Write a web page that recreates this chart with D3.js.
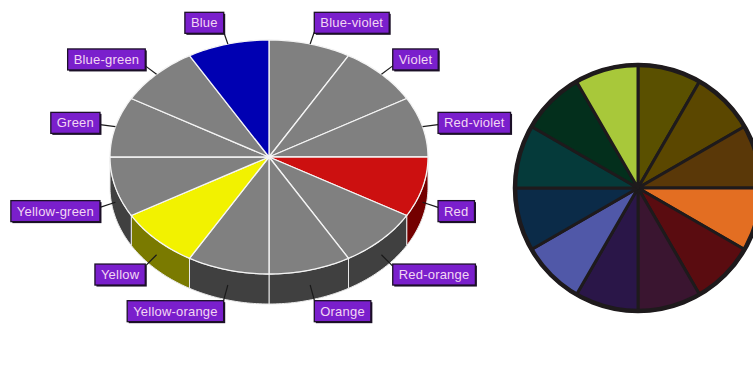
<!DOCTYPE html>
<html><head><meta charset="utf-8">
<script src="https://cdn.jsdelivr.net/npm/d3@7"></script>
<style>html,body{margin:0;padding:0;background:#fff;}svg{display:block;}</style>
</head><body>
<svg id="chart" width="753" height="366"></svg>
<script>
// ---- data ----
const categories = ["Blue-violet","Violet","Red-violet","Red","Red-orange","Orange","Yellow-orange","Yellow","Yellow-green","Green","Blue-green","Blue"];
const values = [1,1,1,1,1,1,1,1,1,1,1,1];
const topColors = ["#808080","#808080","#808080","#cc1010","#808080","#808080","#808080","#f2f200","#808080","#808080","#808080","#0000b2"];
const sideColors = ["#404040","#404040","#404040","#740000","#404040","#404040","#404040","#7a7a00","#404040","#404040","#404040","#000060"];
const wheelColors = ["#5a5000","#5b4700","#5a3808","#e36e22","#5a0c10","#3a1530","#2a1648","#5058a8","#0b2b48","#053a3a","#032f1c","#a8c83a"];
const wheelValues = [1,1,1,1,1,1,1,1,1,1,1,1];

const svg = d3.select("#chart");
const cx = 269, cy = 157, rx = 159, ry = 117, depth = 30;
const pie = d3.pie().sort(null).value(d => d).startAngle(0).endAngle(2*Math.PI);
const arcs = pie(values);

const pt = (a, dy=0, ex=0, ey=0) => [cx + (rx+ex)*Math.sin(a), cy - (ry+ey)*Math.cos(a) + dy];
const line = d3.line();
const sample = (a0, a1, dy) => {
  const n = Math.max(2, Math.ceil(Math.abs(a1-a0)/0.02));
  return d3.range(n+1).map(i => pt(a0 + (a1-a0)*i/n, dy));
};

// side walls (front half: PI/2 .. 3PI/2)
const gWalls = svg.append("g");
arcs.forEach((d,i) => {
  const a0 = Math.max(d.startAngle, Math.PI/2), a1 = Math.min(d.endAngle, 3*Math.PI/2);
  if (a1 <= a0) return;
  const pts = sample(a0, a1, 0).concat(sample(a1, a0, depth));
  gWalls.append("path").attr("d", line(pts) + "Z")
    .attr("fill", sideColors[i]).attr("stroke", "#e8e8e8").attr("stroke-width", 1);
});

// top
const gTop = svg.append("g");
arcs.forEach((d,i) => {
  const pts = [[cx,cy]].concat(sample(d.startAngle, d.endAngle, 0));
  gTop.append("path").attr("d", line(pts) + "Z")
    .attr("fill", topColors[i]).attr("stroke", "#f4f4f4").attr("stroke-width", 1.3)
    .attr("stroke-linejoin","round");
});

// labels
const gLab = svg.append("g").attr("font-family", "'Liberation Sans', Arial, sans-serif").attr("font-size", 13);
arcs.forEach((d,i) => {
  const a = (d.startAngle + d.endAngle)/2;
  const front = Math.cos(a) < 0;
  const yoff = front ? depth/2 : 0;
  const p0 = pt(a, yoff), p1 = pt(a, yoff, 16, 14);
  const g = gLab.append("g");
  const t = g.append("text").text(categories[i]).attr("fill", "#f3d6f3").attr("text-anchor","middle")
    .attr("letter-spacing", 0.2);
  const w = t.node().getComputedTextLength() + 12, h = 21;
  const bx = p1[0] + Math.sign(Math.sin(a))*w/2;
  const by = p1[1] - (h/2)*Math.cos(a) + 2.5;
  gLab.insert("line", "g").attr("x1", p0[0]).attr("y1", p0[1]).attr("x2", p1[0]).attr("y2", p1[1] + 1.5)
    .attr("stroke", "#1a1a1a").attr("stroke-width", 1.2);
  g.insert("rect","text").attr("x", bx - w/2 + 1.5).attr("y", by - h/2 + 1.5).attr("width", w).attr("height", h).attr("fill", "#1c1028");
  g.insert("rect","text").attr("x", bx - w/2).attr("y", by - h/2).attr("width", w).attr("height", h)
    .attr("fill", "#7a1fcc").attr("stroke", "#1c1028").attr("stroke-width", 1.3);
  t.attr("x", bx).attr("y", by + 4.6);
});

// color wheel
const wcx = 638, wcy = 188, wr = 123;
const warc = d3.arc().innerRadius(0).outerRadius(wr);
const gW = svg.append("g").attr("transform", `translate(${wcx},${wcy})`);
gW.selectAll("path").data(pie(wheelValues)).join("path")
  .attr("d", warc).attr("fill", (d,i) => wheelColors[i])
  .attr("stroke", "#1e1a1c").attr("stroke-width", 3).attr("stroke-linejoin","round");
gW.append("circle").attr("r", wr).attr("fill","none").attr("stroke","#1e1a1c").attr("stroke-width",4.5);
</script>
</body></html>
